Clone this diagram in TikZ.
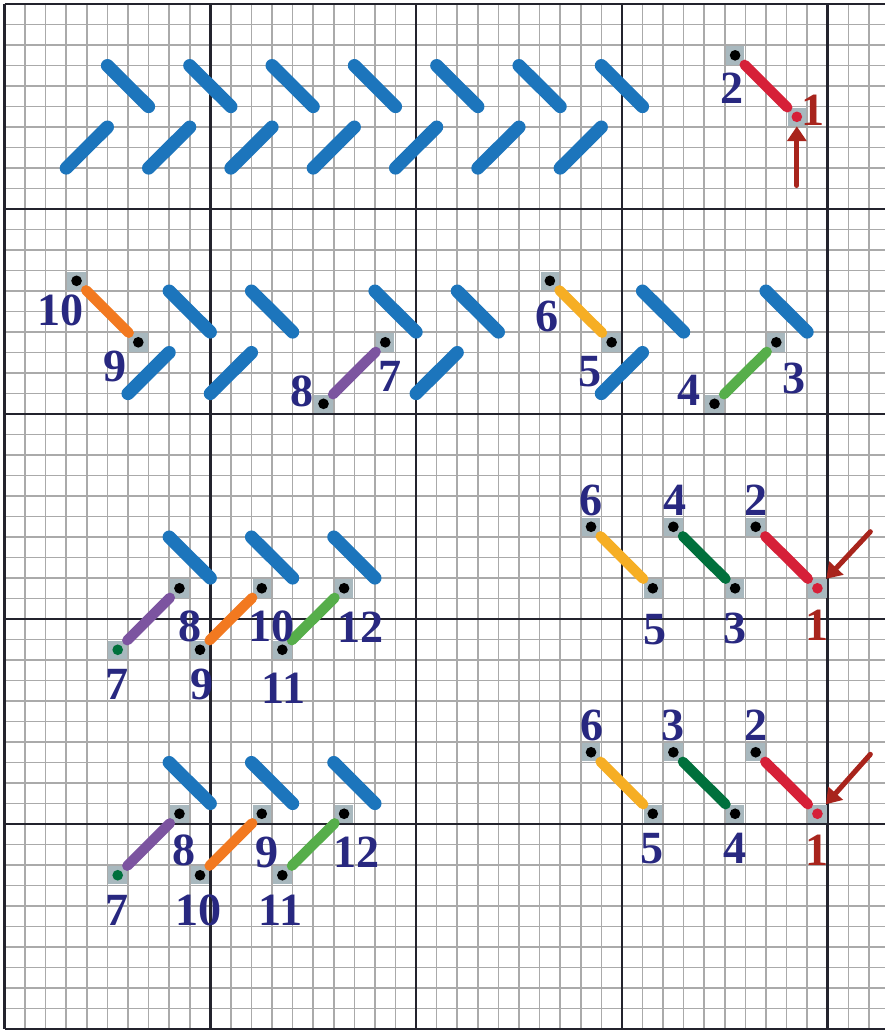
\documentclass[tikz,border=0pt]{standalone}
\usepackage{fontspec}
\setmainfont{Liberation Serif}
\usetikzlibrary{arrows.meta}
\definecolor{csblue}{RGB}{28,117,188}
\definecolor{csred}{RGB}{214,32,56}
\definecolor{csorange}{RGB}{242,121,32}
\definecolor{cspurple}{RGB}{124,84,160}
\definecolor{csyellow}{RGB}{246,174,36}
\definecolor{csgreen}{RGB}{86,174,74}
\definecolor{csdkgreen}{RGB}{0,112,60}
\definecolor{csdarkred}{RGB}{168,36,28}
\definecolor{csnavy}{RGB}{40,40,128}
\definecolor{cshole}{RGB}{168,184,190}
\definecolor{csgridgrey}{RGB}{170,170,170}
\definecolor{csgriddark}{RGB}{35,35,45}
\tikzset{
  cs canvas/.style={
    x=0.502cm,
    y=-0.5cm,
    line cap=round,
    line join=round
  },
  cs fine/.style={
    draw=csgridgrey,
    line width=1.1pt,
    line cap=butt
  },
  cs bold/.style={
    draw=csgriddark,
    line width=1.8pt,
    line cap=butt
  },
  cs wool/.style={
    draw=csblue,
    line width=0.32cm
  },
  cs thread/.style={
    draw=#1,
    line width=0.25cm
  },
  cs hole/.style={
    rectangle,
    fill=cshole,
    minimum size=0.45cm,
    inner sep=0pt,
    path picture={\fill[#1] (path picture bounding box.center) circle (0.13cm);}
  },
  cs hole/.default=black,
  cs num/.style={
    font=\fontsize{32}{32}\selectfont\bfseries,
    text=csnavy,
    inner sep=0pt
  },
  cs first/.style={
    cs num,
    text=csdarkred
  },
  cs arrow/.style={
    draw=csdarkred,
    line width=3.5pt,
    -{Triangle[length=0.36cm,width=0.46cm]}
  }
}

\begin{document}
\begin{tikzpicture}[cs canvas]

  \fill[white] (-0.22,-0.2) rectangle (42.76,50.05);
  \useasboundingbox (-0.22,-0.2) rectangle (42.76,50.05);

  % canvas
  \foreach \i in {1,...,42} {\draw[cs fine] (\i,0) -- (\i,50);}
  \foreach \j in {1,...,49} {\draw[cs fine] (0,\j) -- (42.8,\j);}
  \foreach \i in {0,10,20,30,40} {\draw[cs bold] (\i,0) -- (\i,50);}
  \foreach \j in {0,10,...,50} {\draw[cs bold] (0,\j) -- (42.8,\j);}

  % worked stitches
  \foreach \k in {1,...,7} {
    \draw[cs wool] ({4*\k+1},3) -- ++(2,2);
    \draw[cs wool] ({4*\k-1},8) -- ++(2,-2);
  }
  \foreach \x in {8,12,18,22,31,37} {\draw[cs wool] (\x,14) -- ++(2,2);}
  \foreach \x in {6,10,20,29} {\draw[cs wool] (\x,19) -- ++(2,-2);}
  \foreach \x in {8,12,16} {
    \draw[cs wool] (\x,26) -- ++(2,2);
    \draw[cs wool] (\x,37) -- ++(2,2);
  }

  % start
  \node[cs hole] (a2) at (35.5,2.5) {};
  \node[cs hole=csred] (a1) at (38.5,5.5) {};
  \draw[cs thread=csred] (a2) -- (a1);
  \node[cs num] (a2 num) at (35.35,4.1) {2};
  \node[cs first] (a1 num) at (39.3,5.17) {1};
  \coordinate (a1 tail) at (38.5,8.85);
  \draw[cs arrow] (a1 tail) -- (a1);

  % second row
  \node[cs hole] (b10) at (3.5,13.5) {};
  \node[cs hole] (b9) at (6.5,16.5) {};
  \node[cs hole] (b8) at (15.5,19.5) {};
  \node[cs hole] (b7) at (18.5,16.5) {};
  \node[cs hole] (b6) at (26.5,13.5) {};
  \node[cs hole] (b5) at (29.5,16.5) {};
  \node[cs hole] (b4) at (34.5,19.5) {};
  \node[cs hole] (b3) at (37.5,16.5) {};
  \draw[cs thread=csorange] (b10) -- (b9);
  \draw[cs thread=cspurple] (b8) -- (b7);
  \draw[cs thread=csyellow] (b6) -- (b5);
  \draw[cs thread=csgreen] (b4) -- (b3);
  \node[cs num] (b10 num) at (2.7,14.93) {10};
  \node[cs num] (b9 num) at (5.37,17.7) {9};
  \node[cs num] (b8 num) at (14.45,18.9) {8};
  \node[cs num] (b7 num) at (18.74,18.18) {7};
  \node[cs num] (b6 num) at (26.36,15.25) {6};
  \node[cs num] (b5 num) at (28.43,17.94) {5};
  \node[cs num] (b4 num) at (33.24,18.83) {4};
  \node[cs num] (b3 num) at (38.35,18.26) {3};

  % third row, left
  \node[cs hole=csdkgreen] (cl7) at (5.5,31.5) {};
  \node[cs hole] (cl8) at (8.5,28.5) {};
  \node[cs hole] (cl9) at (9.5,31.5) {};
  \node[cs hole] (cl10) at (12.5,28.5) {};
  \node[cs hole] (cl11) at (13.5,31.5) {};
  \node[cs hole] (cl12) at (16.5,28.5) {};
  \draw[cs thread=cspurple] (cl7) -- (cl8);
  \draw[cs thread=csorange] (cl9) -- (cl10);
  \draw[cs thread=csgreen] (cl11) -- (cl12);
  \node[cs num] (cl7 num) at (5.45,33.2) {7};
  \node[cs num] (cl8 num) at (9.02,30.38) {8};
  \node[cs num] (cl9 num) at (9.6,33.2) {9};
  \node[cs num] (cl10 num) at (12.99,30.38) {10};
  \node[cs num] (cl11 num) at (13.55,33.4) {11};
  \node[cs num] (cl12 num) at (17.28,30.38) {12};

  % third row, right
  \node[cs hole] (cr6) at (28.5,25.5) {};
  \node[cs hole] (cr5) at (31.5,28.5) {};
  \node[cs hole] (cr4) at (32.5,25.5) {};
  \node[cs hole] (cr3) at (35.5,28.5) {};
  \node[cs hole] (cr2) at (36.5,25.5) {};
  \node[cs hole=csred] (cr1) at (39.5,28.5) {};
  \draw[cs thread=csyellow] (cr6) -- (cr5);
  \draw[cs thread=csdkgreen] (cr4) -- (cr3);
  \draw[cs thread=csred] (cr2) -- (cr1);
  \node[cs num] (cr6 num) at (28.5,24.2) {6};
  \node[cs num] (cr5 num) at (31.62,30.5) {5};
  \node[cs num] (cr4 num) at (32.6,24.2) {4};
  \node[cs num] (cr3 num) at (35.5,30.45) {3};
  \node[cs num] (cr2 num) at (36.5,24.2) {2};
  \node[cs first] (cr1 num) at (39.48,30.3) {1};
  \coordinate (cr1 tail) at (42.07,25.74);
  \draw[cs arrow] (cr1 tail) -- (cr1);

  % fourth row, left
  \node[cs hole=csdkgreen] (dl7) at (5.5,42.5) {};
  \node[cs hole] (dl8) at (8.5,39.5) {};
  \node[cs hole] (dl10) at (9.5,42.5) {};
  \node[cs hole] (dl9) at (12.5,39.5) {};
  \node[cs hole] (dl11) at (13.5,42.5) {};
  \node[cs hole] (dl12) at (16.5,39.5) {};
  \draw[cs thread=cspurple] (dl7) -- (dl8);
  \draw[cs thread=csorange] (dl10) -- (dl9);
  \draw[cs thread=csgreen] (dl11) -- (dl12);
  \node[cs num] (dl7 num) at (5.48,44.2) {7};
  \node[cs num] (dl8 num) at (8.7,41.3) {8};
  \node[cs num] (dl10 num) at (9.42,44.2) {10};
  \node[cs num] (dl9 num) at (12.75,41.4) {9};
  \node[cs num] (dl11 num) at (13.4,44.2) {11};
  \node[cs num] (dl12 num) at (17.12,41.4) {12};

  % fourth row, right
  \node[cs hole] (dr6) at (28.5,36.5) {};
  \node[cs hole] (dr5) at (31.5,39.5) {};
  \node[cs hole] (dr3) at (32.5,36.5) {};
  \node[cs hole] (dr4) at (35.5,39.5) {};
  \node[cs hole] (dr2) at (36.5,36.5) {};
  \node[cs hole=csred] (dr1) at (39.5,39.5) {};
  \draw[cs thread=csyellow] (dr6) -- (dr5);
  \draw[cs thread=csdkgreen] (dr3) -- (dr4);
  \draw[cs thread=csred] (dr2) -- (dr1);
  \node[cs num] (dr6 num) at (28.55,35.2) {6};
  \node[cs num] (dr5 num) at (31.47,41.2) {5};
  \node[cs num] (dr3 num) at (32.5,35.2) {3};
  \node[cs num] (dr4 num) at (35.5,41.2) {4};
  \node[cs num] (dr2 num) at (36.5,35.2) {2};
  \node[cs first] (dr1 num) at (39.5,41.3) {1};
  \coordinate (dr1 tail) at (42.07,36.6);
  \draw[cs arrow] (dr1 tail) -- (dr1);

\end{tikzpicture}
\end{document}
